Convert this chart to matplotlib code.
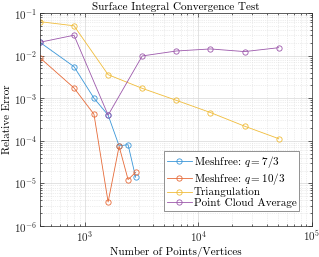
import matplotlib
matplotlib.use('Agg')
import matplotlib.pyplot as plt
import numpy as np

matplotlib.rcParams.update({
    'font.size': 8,
    'font.family': 'serif',
    'font.serif': ['cmr10', 'DejaVu Serif'],
    'mathtext.fontset': 'cm',
    'axes.formatter.use_mathtext': True,
})

n_mesh = [400, 800, 1200, 1600, 2000, 2400, 2800]
err_q73 = [0.0205, 0.0055, 0.001, 4.0e-4, 7.6e-5, 8.1e-5, 1.39e-5]
err_q103 = [0.0089, 0.00174, 4.2e-4, 3.66e-6, 7.4e-5, 1.23e-5, 1.82e-5]

n_tri = [400, 800, 1600, 3200, 6400, 12800, 25600, 51200]
err_tri = [0.0625, 0.050, 0.00356, 0.0017, 8.9e-4, 4.6e-4, 2.2e-4, 1.12e-4]
err_pca = [0.0205, 0.030, 4.0e-4, 0.0098, 0.0128, 0.0143, 0.0124, 0.0153]

labels = ['Meshfree: $q=7/3$', 'Meshfree: $q=10/3$', 'Triangulation', 'Point Cloud Average']
colors = ['#3A96D8', '#E66A38', '#F0BC3A', '#9C58AB']

fig = plt.figure(figsize=(3.19, 2.57), dpi=100)
ax = fig.add_axes([0.125, 0.1206, 0.852, 0.829])

series = [(n_mesh, err_q73), (n_mesh, err_q103), (n_tri, err_tri), (n_tri, err_pca)]
for (x, y), lab, c in zip(series, labels, colors):
    ax.plot(x, y, marker='o', markersize=3.8, markerfacecolor='none', markeredgewidth=0.6,
            linewidth=0.6, color=c, label=lab)

ax.set_xscale('log')
ax.set_yscale('log')
ax.set_xlim(400, 1e5)
ax.set_ylim(1e-6, 1e-1)
ax.grid(which='major', color='#d8d8d8', linewidth=0.5)
ax.grid(which='minor', color='#dcdcdc', linestyle=':', linewidth=0.5)
ax.tick_params(which='both', direction='in', top=True, right=True, width=0.5,
               labelsize=8, colors='#262626')
ax.tick_params(which='major', length=3, pad=2)
ax.tick_params(which='minor', length=1.5)
for s in ax.spines.values():
    s.set_linewidth(0.5)
    s.set_color('#262626')

ax.set_title('Surface Integral Convergence Test', fontsize=8, pad=2)
ax.set_xlabel('Number of Points/Vertices', fontsize=8, labelpad=2)
ax.set_ylabel('Relative Error', fontsize=8, labelpad=1)
leg = ax.legend(loc='lower right', fontsize=8, fancybox=False, framealpha=1,
                edgecolor='#808080', handlelength=2.2, handletextpad=0.2,
                borderpad=0.25, labelspacing=0.08, borderaxespad=0,
                bbox_to_anchor=(0.955, 0.07))
leg.get_frame().set_linewidth(0.6)

fig.savefig('out.png', dpi=100)
